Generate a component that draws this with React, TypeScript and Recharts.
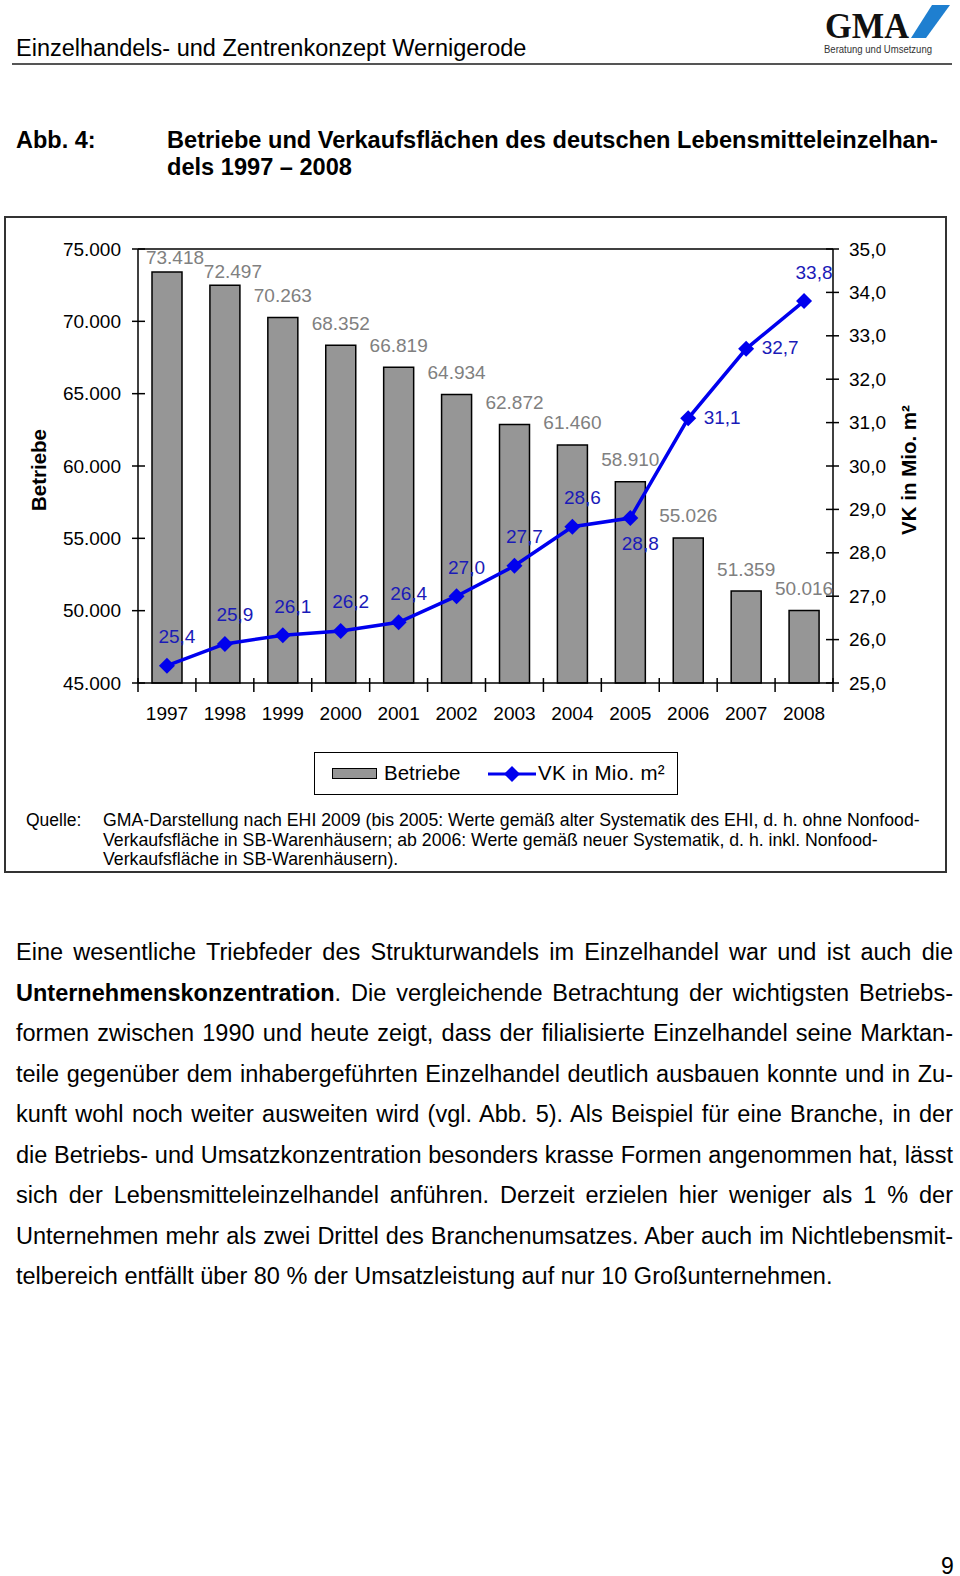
import { Bar, ComposedChart, LabelList, Line, ReferenceLine, XAxis, YAxis } from "recharts";

const YEARS = ["1997", "1998", "1999", "2000", "2001", "2002", "2003", "2004", "2005", "2006", "2007", "2008"];
const BETRIEBE = [73418, 72497, 70263, 68352, 66819, 64934, 62872, 61460, 58910, 55026, 51359, 50016];
const VK_FLAECHE = [25.4, 25.9, 26.1, 26.2, 26.4, 27.0, 27.7, 28.6, 28.8, 31.1, 32.7, 33.8];
const BETRIEBE_TICKS = [45000, 50000, 55000, 60000, 65000, 70000, 75000];
const VK_TICKS = [25, 26, 27, 28, 29, 30, 31, 32, 33, 34, 35];
// where the blue value label sits relative to its marker
const VK_LABEL_SIDE = ["top", "top", "top", "top", "top", "top", "top", "top", "bottom", "right", "right", "top"];

const BODY_LINES = [
  "Eine wesentliche Triebfeder des Strukturwandels im Einzelhandel war und ist auch die",
  "|Unternehmenskonzentration|. Die vergleichende Betrachtung der wichtigsten Betriebs-",
  "formen zwischen 1990 und heute zeigt, dass der filialisierte Einzelhandel seine Marktan-",
  "teile gegenüber dem inhabergeführten Einzelhandel deutlich ausbauen konnte und in Zu-",
  "kunft wohl noch weiter ausweiten wird (vgl. Abb. 5). Als Beispiel für eine Branche, in der",
  "die Betriebs- und Umsatzkonzentration besonders krasse Formen angenommen hat, lässt",
  "sich der Lebensmitteleinzelhandel anführen. Derzeit erzielen hier weniger als 1 % der",
  "Unternehmen mehr als zwei Drittel des Branchenumsatzes. Aber auch im Nichtlebensmit-",
  "telbereich entfällt über 80 % der Umsatzleistung auf nur 10 Großunternehmen.",
];

const SOURCE_LINES = [
  "GMA-Darstellung nach EHI 2009 (bis 2005: Werte gemäß alter Systematik des EHI, d. h. ohne Nonfood-",
  "Verkaufsfläche in SB-Warenhäusern; ab 2006: Werte gemäß neuer Systematik, d. h. inkl. Nonfood-",
  "Verkaufsfläche in SB-Warenhäusern).",
];

const data = YEARS.map((year, i) => ({ year, betriebe: BETRIEBE[i], vk: VK_FLAECHE[i] }));

const FONT = '"Liberation Sans", Arial, Helvetica, sans-serif';
const BLUE = "#0000ee";
const LABEL_BLUE = "#1a1ab8";
const CHART_W = 942;
const CHART_H = 560;
const MARGIN = { top: 33, right: 0, bottom: 43, left: 0 };
const LEFT_AXIS_W = 134;
const RIGHT_AXIS_W = 113;
const BAND = (CHART_W - LEFT_AXIS_W - RIGHT_AXIS_W) / YEARS.length;

const fmtThousands = (v: number) => String(v).replace(/\B(?=(\d{3})+(?!\d))/g, ".");
const fmtDecimal = (v: number) => v.toFixed(1).replace(".", ",");

function LeftTick({ x, y, payload }: any) {
  return (
    <g>
      <line x1={x - 6} x2={x + 7} y1={y} y2={y} stroke="#000" strokeWidth={1.5} />
      <text x={x - 17} y={y} textAnchor="end" dominantBaseline="central" fontSize={19} fontFamily={FONT} fill="#000">
        {fmtThousands(payload.value)}
      </text>
    </g>
  );
}

function RightTick({ x, y, payload }: any) {
  return (
    <g>
      <line x1={x - 7} x2={x + 6} y1={y} y2={y} stroke="#000" strokeWidth={1.5} />
      <text x={x + 16} y={y} textAnchor="start" dominantBaseline="central" fontSize={19} fontFamily={FONT} fill="#000">
        {fmtDecimal(payload.value)}
      </text>
    </g>
  );
}

function YearTick({ x, y, payload, index }: any) {
  const left = x - BAND / 2;
  return (
    <g>
      <line x1={left} x2={left} y1={y - 5} y2={y + 9} stroke="#000" strokeWidth={1.5} />
      {index === YEARS.length - 1 ? (
        <line x1={x + BAND / 2} x2={x + BAND / 2} y1={y - 5} y2={y + 9} stroke="#000" strokeWidth={1.5} />
      ) : null}
      <text x={x} y={y + 30} textAnchor="middle" dominantBaseline="central" fontSize={19} fontFamily={FONT} fill="#000">
        {payload.value}
      </text>
    </g>
  );
}

function BarValueLabel({ x, y, width, value }: any) {
  // labels near the top frame are pushed down and to the right, as in the original
  const nearTop = y < MARGIN.top + 40;
  const cx = x + width / 2 + (nearTop ? 8 : 0);
  const cy = nearTop ? y - 14 : y - 22;
  return (
    <text x={cx} y={cy} textAnchor="middle" dominantBaseline="central" fontSize={19} fontFamily={FONT} fill="#808080">
      {fmtThousands(value)}
    </text>
  );
}

function VkLabel({ x, y, value, index }: any) {
  const side = VK_LABEL_SIDE[index];
  let cx = x + 10;
  let cy = y - 29;
  if (side === "bottom") cy = y + 25;
  if (side === "right") {
    cx = x + 34;
    cy = y - 1;
  }
  return (
    <text x={cx} y={cy} textAnchor="middle" dominantBaseline="central" fontSize={19} fontFamily={FONT} fill={LABEL_BLUE}>
      {fmtDecimal(value)}
    </text>
  );
}

function DiamondDot({ cx, cy, index }: any) {
  const r = 8;
  return (
    <polygon
      key={`dot-${index}`}
      points={`${cx},${cy - r} ${cx + r},${cy} ${cx},${cy + r} ${cx - r},${cy}`}
      fill={BLUE}
    />
  );
}

function AxisTitle({ viewBox, text, dx }: any) {
  const x = viewBox.x + dx;
  const y = viewBox.y + viewBox.height / 2 + 4;
  return (
    <text
      x={x}
      y={y}
      transform={`rotate(-90, ${x}, ${y})`}
      textAnchor="middle"
      dominantBaseline="central"
      fontSize={20.5}
      fontWeight="bold"
      fontFamily={FONT}
      fill="#000"
    >
      {text}
    </text>
  );
}

function BodyLine({ line, last }: { line: string; last: boolean }) {
  const parts = line.split("|");
  return (
    <div style={{ textAlign: "justify", textAlignLast: last ? "left" : "justify", whiteSpace: "nowrap" }}>
      {parts.map((p, i) => (i % 2 === 1 ? <b key={i}>{p}</b> : <span key={i}>{p}</span>))}
    </div>
  );
}

function GmaLogo() {
  return (
    <svg width={134} height={62} style={{ position: "absolute", left: 820, top: 2 }}>
      <text x={5} y={36} fontFamily='"Liberation Serif", "DejaVu Serif", serif' fontWeight="bold" fontSize={35} fill="#111" textLength={84} lengthAdjust="spacingAndGlyphs">
        GMA
      </text>
      <polygon points="112,3 130,3 106,36 91,36" fill="#1e7fd0" />
      <text x={4} y={51} fontFamily={FONT} fontSize={10} fill="#333" textLength={108} lengthAdjust="spacingAndGlyphs">
        Beratung und Umsetzung
      </text>
    </svg>
  );
}

export default function App() {
  return (
    <div style={{ position: "absolute", left: 0, top: 0, width: 960, height: 1576, background: "#fff", fontFamily: FONT, color: "#000" }}>
      <div style={{ position: "absolute", left: 16, top: 34, fontSize: 23.5, lineHeight: "28px", whiteSpace: "nowrap" }}>
        Einzelhandels- und Zentrenkonzept Wernigerode
      </div>
      <GmaLogo />
      <div style={{ position: "absolute", left: 12, top: 63, width: 940, height: 2, background: "#555" }} />

      <div style={{ position: "absolute", left: 16, top: 127, fontSize: 23.5, fontWeight: "bold", lineHeight: "27px" }}>Abb. 4:</div>
      <div style={{ position: "absolute", left: 167, top: 127, fontSize: 23.6, fontWeight: "bold", lineHeight: "27px", whiteSpace: "nowrap" }}>
        <div>Betriebe und Verkaufsflächen des deutschen Lebensmitteleinzelhan-</div>
        <div>dels 1997 – 2008</div>
      </div>

      <div style={{ position: "absolute", left: 4, top: 216, width: 939, height: 653, border: "2px solid #333" }} />

      <div style={{ position: "absolute", left: 4, top: 216 }}>
        <ComposedChart width={CHART_W} height={CHART_H} data={data} margin={MARGIN} barCategoryGap="48%">
          <XAxis
            dataKey="year"
            interval={0}
            height={50}
            tickSize={0}
            tickMargin={0}
            tickLine={false}
            axisLine={{ stroke: "#000", strokeWidth: 1.5 }}
            tick={<YearTick />}
          />
          <YAxis
            yAxisId="left"
            orientation="left"
            width={LEFT_AXIS_W}
            domain={[45000, 75000]}
            ticks={BETRIEBE_TICKS}
            interval={0}
            tickSize={0}
            tickMargin={0}
            tickLine={false}
            axisLine={{ stroke: "#000", strokeWidth: 1.5 }}
            tick={<LeftTick />}
            label={(props: any) => <AxisTitle {...props} text="Betriebe" dx={34} />}
          />
          <YAxis
            yAxisId="right"
            orientation="right"
            width={RIGHT_AXIS_W}
            domain={[25, 35]}
            ticks={VK_TICKS}
            interval={0}
            tickSize={0}
            tickMargin={0}
            tickLine={false}
            axisLine={{ stroke: "#000", strokeWidth: 1.5 }}
            tick={<RightTick />}
            label={(props: any) => <AxisTitle {...props} text="VK in Mio. m²" dx={75} />}
          />
          <ReferenceLine yAxisId="left" y={75000} stroke="#000" strokeWidth={1.5} />
          <Bar yAxisId="left" dataKey="betriebe" fill="#969696" stroke="#000" strokeWidth={1.5} barSize={30} isAnimationActive={false}>
            <LabelList dataKey="betriebe" content={<BarValueLabel />} />
          </Bar>
          <Line
            yAxisId="right"
            dataKey="vk"
            type="linear"
            stroke={BLUE}
            strokeWidth={3.5}
            dot={<DiamondDot />}
            activeDot={false}
            isAnimationActive={false}
          >
            <LabelList dataKey="vk" content={<VkLabel />} />
          </Line>
        </ComposedChart>
      </div>

      {/* legend */}
      <div style={{ position: "absolute", left: 314, top: 752, width: 362, height: 41, border: "1.5px solid #000", fontSize: 20.5 }}>
        <div style={{ position: "absolute", left: 17, top: 15, width: 43, height: 9, background: "#969696", border: "1.5px solid #000" }} />
        <div style={{ position: "absolute", left: 69, top: 8, lineHeight: "24px" }}>Betriebe</div>
        <svg style={{ position: "absolute", left: 172, top: 8 }} width={50} height={24}>
          <line x1={1} x2={49} y1={13} y2={13} stroke={BLUE} strokeWidth={3} />
          <polygon points="25,5 33,13 25,21 17,13" fill={BLUE} />
        </svg>
        <div style={{ position: "absolute", left: 223, top: 8, lineHeight: "24px", whiteSpace: "nowrap", letterSpacing: "0.3px" }}>VK in Mio. m²</div>
      </div>

      {/* source */}
      <div style={{ position: "absolute", left: 26, top: 811, fontSize: 17.5, lineHeight: "19.5px" }}>Quelle:</div>
      <div style={{ position: "absolute", left: 103, top: 811, fontSize: 17.7, lineHeight: "19.5px", whiteSpace: "nowrap" }}>
        {SOURCE_LINES.map((l) => (
          <div key={l}>{l}</div>
        ))}
      </div>

      {/* body text */}
      <div style={{ position: "absolute", left: 16, top: 932, width: 937, fontSize: 23.5, lineHeight: "40.5px" }}>
        {BODY_LINES.map((l, i) => (
          <BodyLine key={i} line={l} last={i === BODY_LINES.length - 1} />
        ))}
      </div>

      <div style={{ position: "absolute", left: 941, top: 1552, fontSize: 23, lineHeight: "28px" }}>9</div>
    </div>
  );
}
